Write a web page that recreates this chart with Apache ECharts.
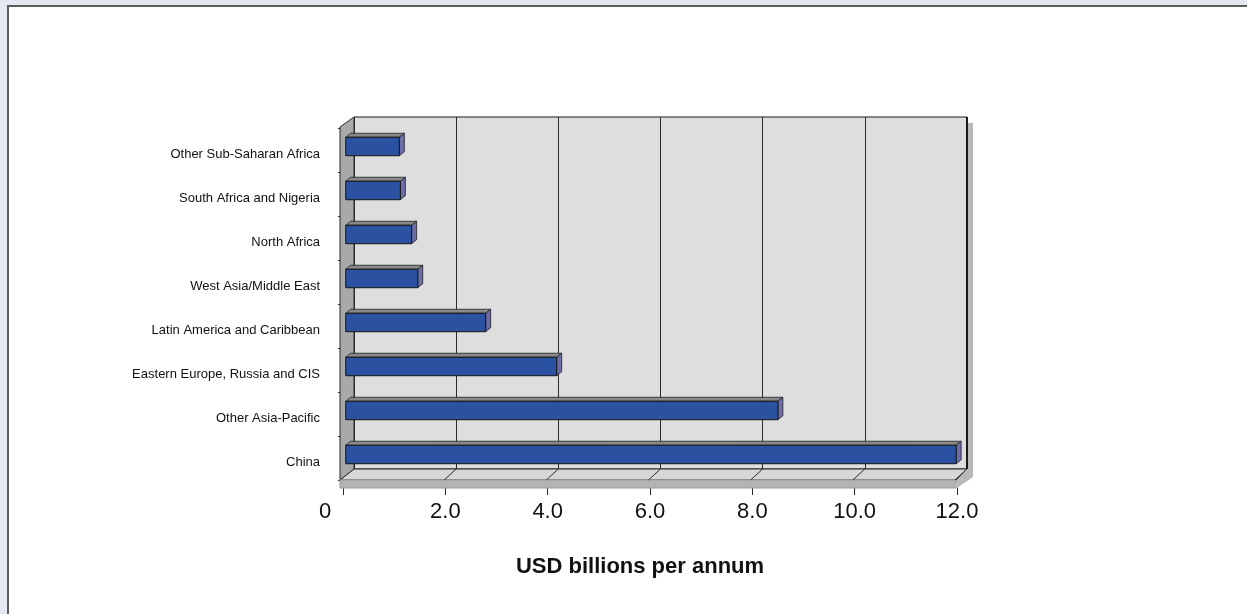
<!DOCTYPE html>
<html>
<head>
<meta charset="utf-8">
<script src="https://cdn.jsdelivr.net/npm/echarts@6/dist/echarts.min.js"></script>
<style>
  html, body { margin: 0; padding: 0; background: #e4e8f2; overflow: hidden; }
  #panel { position: absolute; left: 7px; top: 5px; width: 1400px; height: 800px;
           background: #ffffff; border-top: 2px solid #5c5c5c; border-left: 2px solid #5c5c5c; }
  #chart { position: absolute; left: 0; top: 0; width: 1247px; height: 614px; }
</style>
</head>
<body>
<div id="panel"></div>
<div id="chart"></div>
<script>
// Regions, listed bottom to top as they appear on the category axis
const categories = [
  'China',
  'Other Asia-Pacific',
  'Eastern Europe, Russia and CIS',
  'Latin America and Caribbean',
  'West Asia/Middle East',
  'North Africa',
  'South Africa and Nigeria',
  'Other Sub-Saharan Africa'
];
// USD billions per annum
const values = [11.95, 8.46, 4.13, 2.74, 1.41, 1.29, 1.07, 1.05];
const axisMin = 0;
const axisMax = 12;
const axisStep = 2;

const FONT = "'Liberation Sans', Arial, sans-serif";

// Depth of the 3D box (front plane relative to the back wall)
const DX = -14, DY = 11;

const chart = echarts.init(document.getElementById('chart'), null, { renderer: 'canvas' });

function renderFrame(params, api) {
  const cs = params.coordSys;
  const x0 = cs.x, y0 = cs.y, x1 = cs.x + cs.width, y1 = cs.y + cs.height;
  const children = [];
  // right-hand edge shadow of the box
  children.push({
    type: 'polygon',
    shape: { points: [[x1 + 1, y0 + 6], [x1 + 6, y0 + 6], [x1 + 6, y1 + 8],
                      [x1 - 10, y1 + DY + 8], [x1 - 11, y1 + DY], [x1 + 1, y1]] },
    style: { fill: '#b9b9b9' }
  });
  // left side wall
  children.push({
    type: 'polygon',
    shape: { points: [[x0 + DX, y0 + DY - 1], [x0, y0], [x0, y1], [x0 + DX, y1 + DY]] },
    style: { fill: '#a9a9a9', stroke: '#2a2a2a', lineWidth: 1 }
  });
  // floor top
  children.push({
    type: 'polygon',
    shape: { points: [[x0, y1], [x1, y1], [x1 - 11, y1 + DY], [x0 + DX, y1 + DY]] },
    style: { fill: '#d7d7d7', stroke: '#2a2a2a', lineWidth: 1 }
  });
  // floor front face
  children.push({
    type: 'rect',
    shape: { x: x0 + DX, y: y1 + DY, width: (x1 - 11) - (x0 + DX), height: 8 },
    style: { fill: '#b4b4b4', stroke: '#9a9a9a', lineWidth: 1 }
  });
  // gridlines continued across the floor
  for (let v = axisMin + axisStep; v <= axisMax; v += axisStep) {
    const xb = api.coord([v, 0])[0];
    children.push({
      type: 'line',
      shape: { x1: xb, y1: y1, x2: xb - 12, y2: y1 + DY },
      style: { stroke: '#2a2a2a', lineWidth: 1 }
    });
  }
  // heavier right edge of the back wall
  children.push({
    type: 'line',
    shape: { x1: x1, y1: y0, x2: x1, y2: y1 },
    style: { stroke: '#1a1a1a', lineWidth: 2 }
  });
  return { type: 'group', children };
}

function renderBar(params, api) {
  const idx = api.value(1);
  const val = api.value(0);
  const p0 = api.coord([0, idx]);
  const p1 = api.coord([val, idx]);
  const band = api.size([0, 1])[1];
  const shift = -8.3;
  const xa = p0[0] + shift;
  const xb = p1[0] + shift;
  const yc = p0[1] + band * 0.17;
  const h = band * 0.42;
  const yt = yc - h / 2, yb = yc + h / 2;
  const dX = 5, dY = -4;
  return {
    type: 'group',
    children: [
      {
        type: 'polygon',
        shape: { points: [[xa, yt], [xb, yt], [xb + dX, yt + dY], [xa + dX, yt + dY]] },
        style: { fill: '#8a8a8a', stroke: '#1e1e1e', lineWidth: 0.8 }
      },
      {
        type: 'polygon',
        shape: { points: [[xb, yt], [xb + dX, yt + dY], [xb + dX, yb + dY], [xb, yb]] },
        style: { fill: '#6c6ca8', stroke: '#1e1e1e', lineWidth: 0.8 }
      },
      {
        type: 'rect',
        shape: { x: xa, y: yt, width: xb - xa, height: h },
        style: { fill: '#2a52a0', stroke: '#151515', lineWidth: 1 }
      }
    ]
  };
}

const option = {
  backgroundColor: 'transparent',
  animation: false,
  grid: [
    // back wall
    { left: 354, top: 117, width: 613, height: 352, show: true,
      backgroundColor: '#dedede', borderColor: '#1a1a1a', borderWidth: 1 },
    // front plane carrying the labelled axes
    { left: 343, top: 128, width: 614, height: 352 }
  ],
  xAxis: [
    { type: 'value', gridIndex: 0, min: axisMin, max: axisMax, interval: axisStep,
      axisLine: { show: false }, axisTick: { show: false }, axisLabel: { show: false },
      splitLine: { show: true, lineStyle: { color: '#2a2a2a', width: 1 } } },
    { type: 'value', gridIndex: 1, min: axisMin, max: axisMax, interval: axisStep,
      axisLine: { show: true, lineStyle: { color: '#2a2a2a', width: 1 } },
      axisTick: { show: true, length: 15, lineStyle: { color: '#2a2a2a' } },
      splitLine: { show: false },
      axisLabel: {
        margin: 21, fontFamily: FONT, fontSize: 22, color: '#111',
        formatter: v => v === 0 ? '{z|0}' : v.toFixed(1),
        rich: { z: { fontFamily: FONT, fontSize: 22, color: '#111', padding: [0, 36, 0, 0] } }
      },
      name: 'USD billions per annum', nameLocation: 'middle', nameGap: 76,
      nameTextStyle: { fontFamily: FONT, fontSize: 22, fontWeight: 'bold', color: '#111',
                       padding: [0, 20, 0, 0] } }
  ],
  yAxis: [
    { type: 'category', gridIndex: 0, data: categories,
      axisLine: { show: false }, axisTick: { show: false }, axisLabel: { show: false },
      splitLine: { show: false } },
    { type: 'category', gridIndex: 1, data: categories, offset: 3,
      axisLine: { show: true, lineStyle: { color: '#2a2a2a', width: 1 } },
      axisTick: { show: true, length: 5, lineStyle: { color: '#2a2a2a' } },
      splitLine: { show: false },
      axisLabel: { margin: 20, fontFamily: FONT, fontSize: 13, color: '#111',
                   verticalAlign: 'top', lineHeight: 8 } }
  ],
  series: [
    { type: 'custom', name: 'frame', xAxisIndex: 0, yAxisIndex: 0, z: 1,
      silent: true, renderItem: renderFrame, data: [[0, 0]] },
    { type: 'custom', name: 'USD billions per annum', xAxisIndex: 0, yAxisIndex: 0, z: 3,
      renderItem: renderBar, encode: { x: 0, y: 1 },
      data: values.map((v, i) => [v, i]) }
  ]
};

chart.setOption(option);
</script>
</body>
</html>
